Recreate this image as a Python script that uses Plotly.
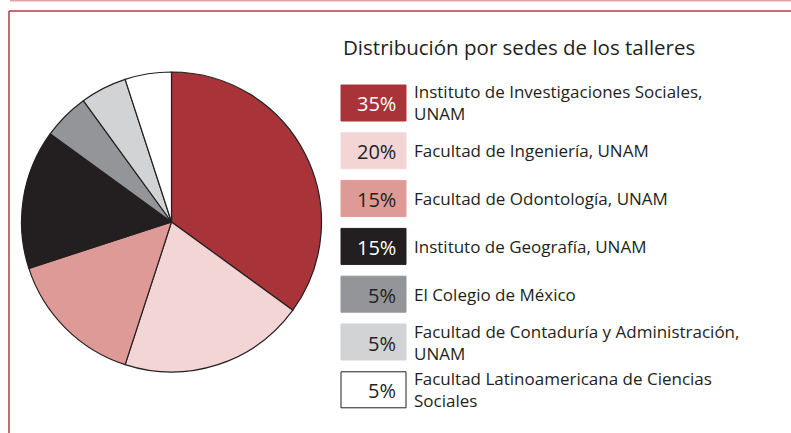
import plotly.graph_objects as go

title = "Distribución por sedes de los talleres"
labels = [
    "Instituto de Investigaciones Sociales,<br>UNAM",
    "Facultad de Ingeniería, UNAM",
    "Facultad de Odontología, UNAM",
    "Instituto de Geografía, UNAM",
    "El Colegio de México",
    "Facultad de Contaduría y Administración,<br>UNAM",
    "Facultad Latinoamericana de Ciencias<br>Sociales",
]
values = [35, 20, 15, 15, 5, 5, 5]
colors = ["#A8343A", "#F4D5D5", "#DE9A96", "#231F20", "#939598", "#D1D3D4", "#FFFFFF"]
pct_colors = ["#FFFFFF", "#231F20", "#231F20", "#FFFFFF", "#231F20", "#231F20", "#231F20"]

W, H = 791, 433
FONT = "Open Sans"

fig = go.Figure()
fig.add_trace(go.Pie(
    values=values,
    labels=[l.replace("<br>", " ") for l in labels],
    marker=dict(colors=colors, line=dict(color="#231F20", width=1.2)),
    sort=False,
    direction="clockwise",
    rotation=0,
    textinfo="none",
    hoverinfo="label+percent",
    showlegend=False,
    domain=dict(x=[21 / W, 322 / W], y=[(H - 372) / H, (H - 72) / H]),
))

shapes = []
annotations = []

# frame lines
shapes.append(dict(type="line", xref="paper", yref="paper", x0=10 / W, x1=1, y0=1 - 0.8 / H, y1=1 - 0.8 / H,
                   line=dict(color="#E2A3A6", width=1.5)))
shapes.append(dict(type="line", xref="paper", yref="paper", x0=9 / W, x1=1, y0=1 - 11 / H, y1=1 - 11 / H,
                   line=dict(color="#B43A45", width=1.5)))
shapes.append(dict(type="line", xref="paper", yref="paper", x0=9 / W, x1=9 / W, y0=0, y1=1 - 11 / H,
                   line=dict(color="#B43A45", width=1.5)))

annotations.append(dict(text=title, xref="paper", yref="paper", x=341 / W, y=1 - 47 / H,
                        xanchor="left", yanchor="middle", showarrow=False,
                        font=dict(family=FONT, size=20.5, color="#231F20")))

box_top0 = 85
step = 47.8
box_h = 36
for i, (lab, v, c, pc) in enumerate(zip(labels, values, colors, pct_colors)):
    top = box_top0 + step * i
    bot = top + box_h
    shapes.append(dict(type="rect", xref="paper", yref="paper",
                       x0=341 / W, x1=406 / W, y0=1 - bot / H, y1=1 - top / H,
                       fillcolor=c, line=dict(color="#231F20" if c == "#FFFFFF" else c, width=1)))
    mid = (top + bot) / 2
    annotations.append(dict(text=f"{v}%", xref="paper", yref="paper", x=398 / W, y=1 - (mid + 1) / H,
                            xanchor="right", yanchor="middle", showarrow=False,
                            font=dict(family=FONT, size=20, color=pc)))
    annotations.append(dict(text=lab, xref="paper", yref="paper", x=412 / W, y=1 - mid / H,
                            xanchor="left", yanchor="middle", align="left", showarrow=False,
                            font=dict(family=FONT, size=17, color="#231F20")))

fig.update_layout(
    width=W, height=H,
    margin=dict(l=0, r=0, t=0, b=0),
    paper_bgcolor="white",
    plot_bgcolor="white",
    shapes=shapes,
    annotations=annotations,
    showlegend=False,
)

fig.write_html("out.html", config={"displayModeBar": False},
               post_script="document.body.style.margin='0';document.body.style.overflow='hidden';")
